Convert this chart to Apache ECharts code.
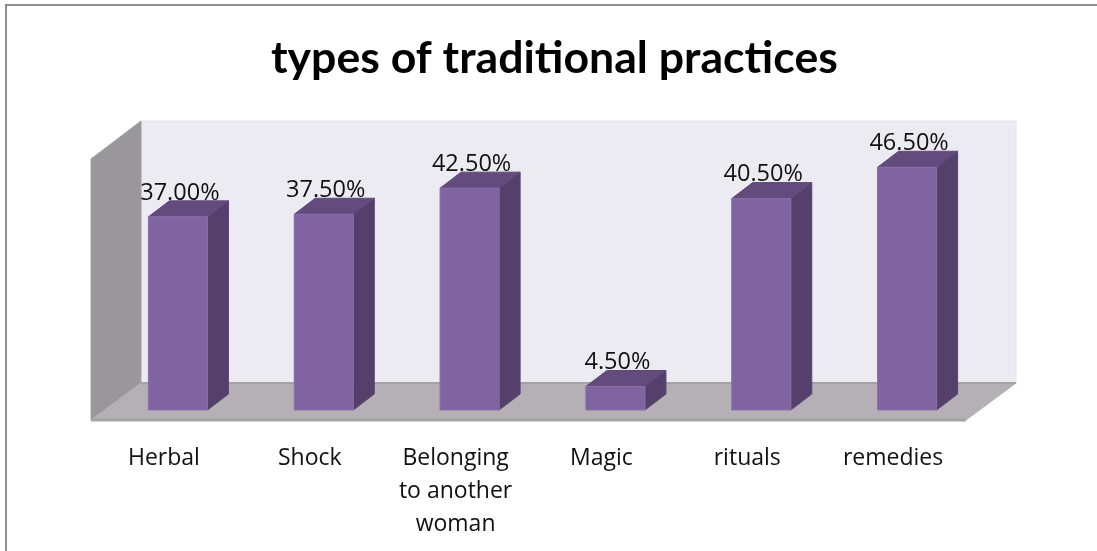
<!DOCTYPE html>
<html>
<head>
<meta charset="utf-8">
<style>html,body{margin:0;padding:0;background:#fff}#c{width:1097px;height:551px}</style>
<script src="https://cdn.jsdelivr.net/npm/echarts@6/dist/echarts.min.js"></script>
</head>
<body>
<div id="c"></div>
<script>
const chartTitle = 'types of traditional practices';
const categories = ['Herbal', 'Shock', 'Belonging\nto another\nwoman', 'Magic', 'rituals', 'remedies'];
const values = [37.0, 37.5, 42.5, 4.5, 40.5, 46.5];

const chart = echarts.init(document.getElementById('c'), null, {renderer: 'canvas'});
const poly = (points, fill, stroke, lw) => ({
  type: 'polygon', shape: {points},
  style: {fill, stroke: stroke || fill, lineWidth: lw == null ? 1 : lw}
});

function renderRoom(params, api) {
  const g = params.coordSys;
  const x0 = g.x, x1 = g.x + g.width, yb = g.y + g.height, yt = g.y;
  const fx = -14, fy = 10, bx = 36, by = -27;
  return {type: 'group', silent: true, children: [
    poly([[x0+bx,yt+by-1],[x1+bx,yt+by-1],[x1+bx,yb+by],[x0+bx,yb+by]], '#ecebf2', '#e4e3ea', 1),
    poly([[x0+fx,yt+fy],[x0+bx,yt+by-1],[x0+bx,yb+by],[x0+fx,yb+fy]], '#99979b', '#a2a0a4', 1),
    poly([[x0+fx,yb+fy],[x0+bx,yb+by],[x1+bx,yb+by],[x1+fx,yb+fy]], '#b4b0b6', '#b4b0b6', 1),
    {type: 'line', shape: {x1: x0+bx, y1: yb+by, x2: x1+bx, y2: yb+by}, style: {stroke: '#a3a1a4', lineWidth: 2}},
    {type: 'line', shape: {x1: x0+fx, y1: yb+fy, x2: x1+fx, y2: yb+fy}, style: {stroke: '#a3a3a3', lineWidth: 3}}
  ]};
}

function renderBar(params, api) {
  const i = api.value(0), v = api.value(1);
  const top = api.coord([i, v]), base = api.coord([i, 0]);
  const w = api.size([1, 0])[0] * 0.405;
  const l = top[0] - w / 2, r = top[0] + w / 2, t = top[1], b = base[1];
  const dx = 21, dy = -16;
  return {type: 'group', children: [
    poly([[r,b],[r,t],[r+dx,t+dy],[r+dx,b+dy]], '#54406a', '#5a4572'),
    poly([[l,t],[l+dx,t+dy],[r+dx,t+dy],[r,t]], '#634c7d', '#5f4879'),
    poly([[l,t],[r,t],[r,b],[l,b]], '#8063a1', '#8a6fa9'),
    {type: 'text', x: top[0] + 2, y: t - 24, style: {
      text: v.toFixed(2) + '%', fill: '#111', font: '23.5px "Open Sans"',
      align: 'center', verticalAlign: 'middle'}}
  ]};
}

chart.setOption({
  animation: false,
  backgroundColor: '#fff',
  title: {text: chartTitle, left: 266, top: 31,
    textStyle: {fontFamily: 'Lato', fontWeight: 'bold', fontSize: 44.6, color: '#000'}},
  graphic: [{type: 'polyline', silent: true,
    shape: {points: [[6,551],[6,5],[1097,5]]},
    style: {fill: 'none', stroke: '#8f8f8f', lineWidth: 2}}],
  grid: [
    {left: 105, top: 149, width: 875, height: 261},
    {left: 91, top: 159, width: 875, height: 261}
  ],
  xAxis: [
    {gridIndex: 0, type: 'category', data: categories, show: false},
    {gridIndex: 1, type: 'category', data: categories,
     axisLine: {show: false}, axisTick: {show: false},
     axisLabel: {interval: 0, margin: 22, color: '#111', fontFamily: 'Open Sans', fontSize: 23, lineHeight: 33}}
  ],
  yAxis: [
    {gridIndex: 0, type: 'value', min: 0, max: 50, show: false},
    {gridIndex: 1, type: 'value', min: 0, max: 50, show: false}
  ],
  series: [
    {type: 'custom', xAxisIndex: 0, yAxisIndex: 0, z: 1, renderItem: renderRoom, data: [[0, 0]], silent: true},
    {type: 'custom', xAxisIndex: 0, yAxisIndex: 0, z: 2, renderItem: renderBar,
     encode: {x: 0, y: 1}, data: values.map((v, i) => [i, v])}
  ]
});
</script>
</body>
</html>
